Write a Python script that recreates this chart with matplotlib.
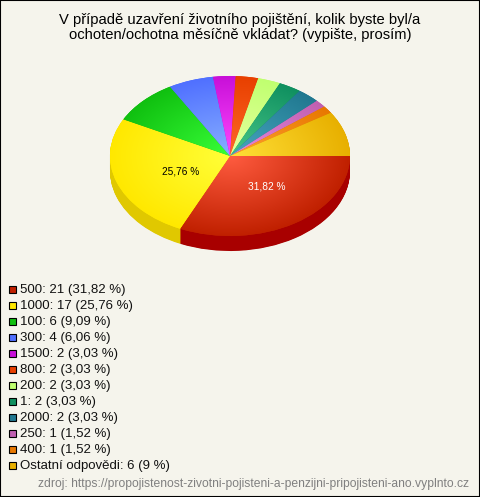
import numpy as np
import matplotlib
matplotlib.use('Agg')
import matplotlib.pyplot as plt
from matplotlib.colors import LinearSegmentedColormap
from matplotlib.patches import Rectangle

W, H = 480, 497
CX, CY = 230, 156      # stred kolace v px
RX, RY = 120, 80
DEPTH = 15

title = "V případě uzavření životního pojištění, kolik byste byl/a\nochoten/ochotna měsíčně vkládat? (vypište, prosím)"
source = "zdroj: https://propojistenost-zivotni-pojisteni-a-penzijni-pripojisteni-ano.vyplnto.cz"

categories = ['500', '1000', '100', '300', '1500', '800', '200', '1', '2000', '250', '400', 'Ostatní odpovědi']
counts = [21, 17, 6, 4, 2, 2, 2, 2, 2, 1, 1, 6]
percent_labels = ['31,82', '25,76', '9,09', '6,06', '3,03', '3,03', '3,03', '3,03', '3,03', '1,52', '1,52', '9']

edge_colors = ['#c02000', '#ffe800', '#10c010', '#5070ff', '#c810d8', '#e84000',
               '#c0ff70', '#109060', '#207890', '#c060b0', '#e87800', '#e8b000']
center_colors = ['#ff5c40', '#ffff38', '#38ff38', '#88b0ff', '#ff48ff', '#ff6828',
                 '#e8ffa0', '#48c888', '#48a8c0', '#e888e0', '#ffa030', '#ffe038']
side_colors = ['#a80000', '#e0c800', '#08a008', '#3850d0', '#a008b0', '#c03000',
               '#a0d858', '#087048', '#105870', '#a04890', '#c06000', '#c89000']

BG = '#f5f4ec'

fig = plt.figure(figsize=(W / 100, H / 100), dpi=100, facecolor=BG)
ax = fig.add_axes([0, 0, 1, 1])
plt.rcParams['font.family'] = ['Liberation Sans', 'DejaVu Sans']

# bocni stena - naskladane kolace pod sebou
for d in np.arange(DEPTH, 0, -0.5):
    ax.pie(counts, colors=side_colors, startangle=0, counterclock=False,
           center=(0, -d / RY), radius=1, frame=False)

wedges, _ = ax.pie(counts, colors=edge_colors, startangle=0, counterclock=False,
                   center=(0, 0), radius=1, frame=False)

gx, gy = np.meshgrid(np.linspace(-1, 1, 400), np.linspace(-1, 1, 400))
dist = np.clip(np.sqrt(gx ** 2 + gy ** 2), 0, 1)
for w, c0, c1 in zip(wedges, center_colors, edge_colors):
    cmap = LinearSegmentedColormap.from_list('w', [c0, c1])
    im = ax.imshow(dist, extent=(-1, 1, -1, 1), origin='lower', cmap=cmap,
                   vmin=0, vmax=1, aspect='auto', zorder=3)
    im.set_clip_path(w)

ax.set_aspect('auto')
ax.set_xlim(-CX / RX, (W - CX) / RX)
ax.set_ylim(-(H - CY) / RY, CY / RY)
ax.axis('off')

# popisky dvou nejvetsich vyseci
shares = np.array(counts) / sum(counts)
mids = 360 * (np.cumsum(shares) - shares / 2)
for i, col, r in [(0, 'white', 0.49), (1, 'black', 0.45)]:
    a = np.radians(mids[i] - 6)
    ax.text(r * np.cos(a), -r * np.sin(a), percent_labels[i] + ' %', color=col,
            fontsize=7.3, ha='center', va='center', zorder=5)


def px(x, y):
    return x / W, 1 - y / H


fig.text(*px(240, 27.5), title, ha='center', va='center', fontsize=10.6,
         color='black', linespacing=1.06)

for i, (cat, n, p) in enumerate(zip(categories, counts, percent_labels)):
    y = 289.5 + 16 * i
    fig.add_artist(Rectangle(px(9, y + 3.5), 7 / W, 7 / H, transform=fig.transFigure,
                             facecolor=edge_colors[i], edgecolor='black', lw=0.8))
    fig.text(*px(20, y + 0.5), f'{cat}: {n} ({p} %)', ha='left', va='center',
             fontsize=9.5, color='#111111')

fig.text(*px(469, 484), source, ha='right', va='center', fontsize=8.7, color='#808080')

# ramecek okolo obrazku
fig.add_artist(Rectangle((0, 0), 1, 1, transform=fig.transFigure, fill=False,
                         edgecolor='black', lw=1.5))

fig.savefig('out.png', dpi=100, facecolor=BG)
